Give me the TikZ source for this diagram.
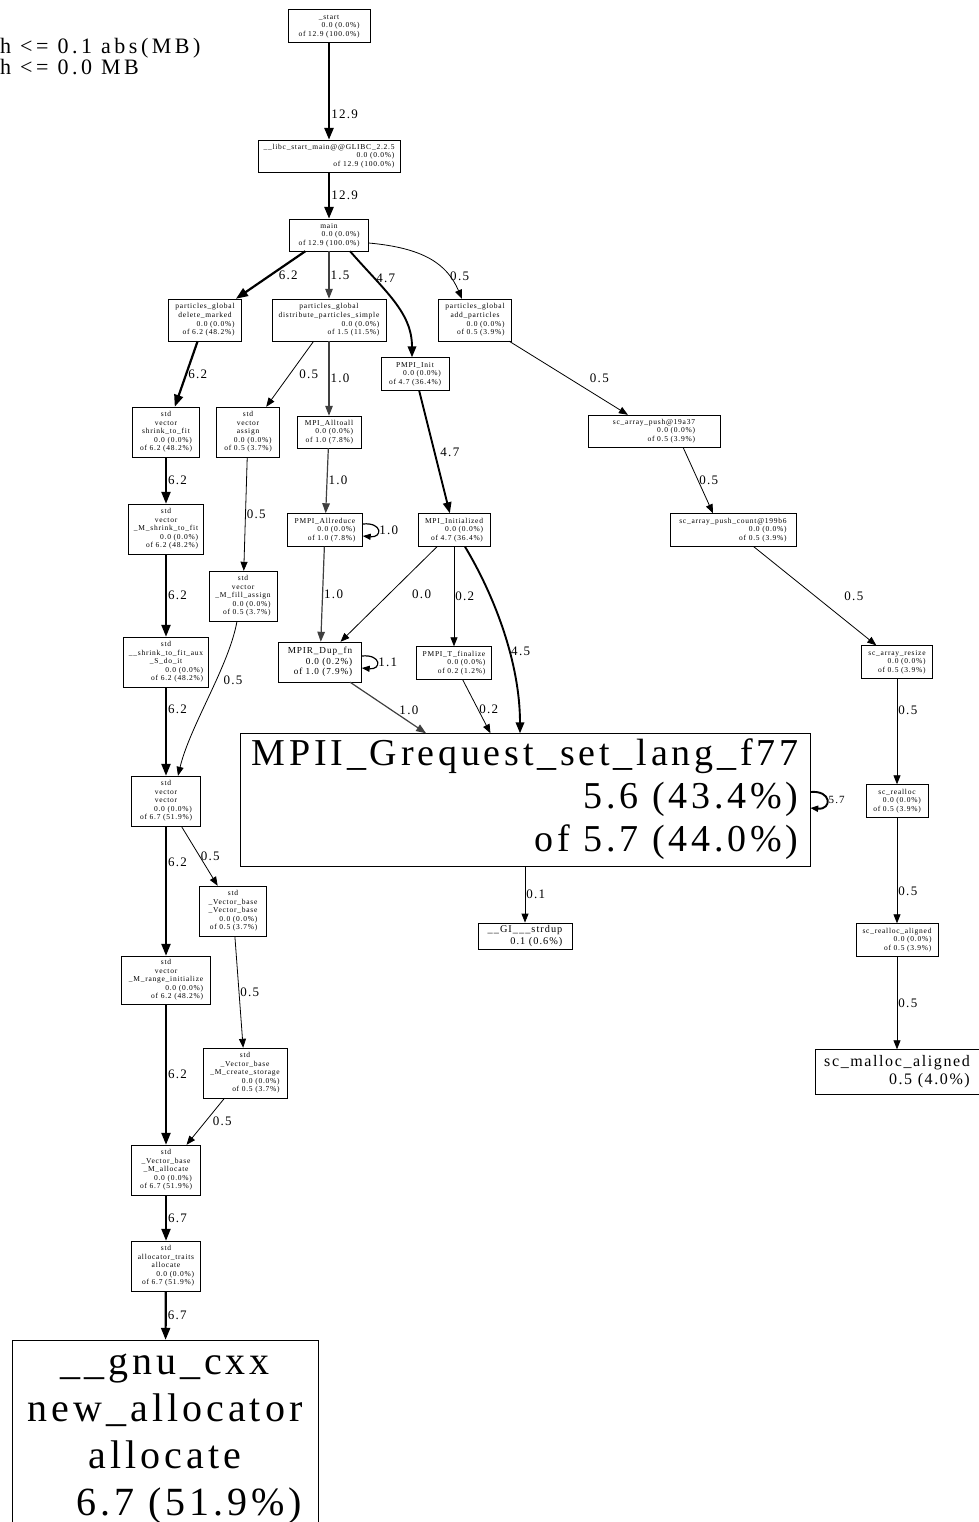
\documentclass[tikz,border=0pt]{standalone}
\usepackage{fontspec}
\setmainfont{Liberation Serif}[LetterSpace=10]
\newfontfamily\legendfont{Liberation Serif}[LetterSpace=16]
\usetikzlibrary{arrows.meta}

\newcommand{\fnlbl}[3]{\begin{tabular}{@{}c@{}}#1\\\hfill #2\\\hfill #3\end{tabular}}
\newcommand{\leaflbl}[2]{\begin{tabular}{@{}c@{}}#1\\\hfill #2\end{tabular}}

\begin{document}
\begin{tikzpicture}[x=1pt, y=-1pt,
  fn/.style={draw, inner sep=1.5pt, font=\fontsize{7.5}{8.6}\selectfont},
  lbl/.style={anchor=west, inner sep=1pt, font=\fontsize{13}{14}\selectfont},
  e0/.style={-{Triangle[length=9pt,width=7pt]}, line width=0.8pt},
  e1/.style={-{Triangle[length=10pt,width=7.5pt]}, line width=1.2pt, draw=black!75},
  e4/.style={-{Triangle[length=11pt,width=8.5pt]}, line width=1.9pt},
  e6/.style={-{Triangle[length=12pt,width=9pt]}, line width=2.2pt},
  e12/.style={-{Triangle[length=12pt,width=9pt]}, line width=2.6pt},
  loopy/.style={-{Triangle[length=8pt,width=6pt]}, draw=black}]
\useasboundingbox (0,0) rectangle (979,1522);

\node[anchor=west, align=left, inner sep=0pt, font=\legendfont\fontsize{22}{19}\selectfont] (legend) at (0,57) {h <= 0.1 abs(MB)\\h <= 0.0 MB};

\node[fn, minimum width=82pt, minimum height=33pt] (start) at (329,26) {\fnlbl{\_start}{0.0 (0.0\%)}{of 12.9 (100.0\%)}};
\node[fn, minimum width=142pt, minimum height=32pt] (libc) at (329,156) {\fnlbl{\_\_libc\_start\_main@@GLIBC\_2.2.5}{0.0 (0.0\%)}{of 12.9 (100.0\%)}};
\node[fn, minimum width=79pt, minimum height=32pt] (main) at (329,235) {\fnlbl{main}{0.0 (0.0\%)}{of 12.9 (100.0\%)}};
\node[fn, minimum width=73pt, minimum height=42pt] (delmark) at (205,320) {\fnlbl{particles\_global\\delete\_marked}{0.0 (0.0\%)}{of 6.2 (48.2\%)}};
\node[fn, minimum width=114pt, minimum height=42pt] (distrib) at (329,320) {\fnlbl{particles\_global\\distribute\_particles\_simple}{0.0 (0.0\%)}{of 1.5 (11.5\%)}};
\node[fn, minimum width=73pt, minimum height=42pt] (addpart) at (475,320) {\fnlbl{particles\_global\\add\_particles}{0.0 (0.0\%)}{of 0.5 (3.9\%)}};
\node[fn, minimum width=68pt, minimum height=33pt] (pmpiinit) at (415,374) {\fnlbl{PMPI\_Init}{0.0 (0.0\%)}{of 4.7 (36.4\%)}};
\node[fn, minimum width=132pt, minimum height=32pt] (pusha) at (654,431) {\fnlbl{sc\_array\_push@19a37}{0.0 (0.0\%)}{of 0.5 (3.9\%)}};
\node[fn, minimum width=67pt, minimum height=50pt] (shrink) at (166,432) {\fnlbl{std\\vector\\shrink\_to\_fit}{0.0 (0.0\%)}{of 6.2 (48.2\%)}};
\node[fn, minimum width=63pt, minimum height=50pt] (assign) at (248,432) {\fnlbl{std\\vector\\assign}{0.0 (0.0\%)}{of 0.5 (3.7\%)}};
\node[fn, minimum width=64pt, minimum height=32pt] (alltoall) at (329,432) {\fnlbl{MPI\_Alltoall}{0.0 (0.0\%)}{of 1.0 (7.8\%)}};
\node[fn, minimum width=75pt, minimum height=50pt] (mshrink) at (166,529) {\fnlbl{std\\vector\\\_M\_shrink\_to\_fit}{0.0 (0.0\%)}{of 6.2 (48.2\%)}};
\node[fn, minimum width=75pt, minimum height=33pt] (allreduce) at (325,530) {\fnlbl{PMPI\_Allreduce}{0.0 (0.0\%)}{of 1.0 (7.8\%)}};
\node[fn, minimum width=72pt, minimum height=33pt] (initialized) at (454,530) {\fnlbl{MPI\_Initialized}{0.0 (0.0\%)}{of 4.7 (36.4\%)}};
\node[fn, minimum width=126pt, minimum height=33pt] (pushcount) at (733,530) {\fnlbl{sc\_array\_push\_count@199b6}{0.0 (0.0\%)}{of 0.5 (3.9\%)}};
\node[fn, minimum width=68pt, minimum height=50pt] (fillassign) at (243,596) {\fnlbl{std\\vector\\\_M\_fill\_assign}{0.0 (0.0\%)}{of 0.5 (3.7\%)}};
\node[fn, minimum width=85pt, minimum height=50pt] (doit) at (166,662) {\fnlbl{std\\\_\_shrink\_to\_fit\_aux\\\_S\_do\_it}{0.0 (0.0\%)}{of 6.2 (48.2\%)}};
\node[fn, minimum width=83pt, minimum height=40pt, font=\fontsize{9.2}{10.5}\selectfont] (dupfn) at (320,662) {\fnlbl{MPIR\_Dup\_fn}{0.0 (0.2\%)}{of 1.0 (7.9\%)}};
\node[fn, minimum width=75pt, minimum height=33pt] (tfinalize) at (454,663) {\fnlbl{PMPI\_T\_finalize}{0.0 (0.0\%)}{of 0.2 (1.2\%)}};
\node[fn, minimum width=71pt, minimum height=33pt] (resize) at (897,662) {\fnlbl{sc\_array\_resize}{0.0 (0.0\%)}{of 0.5 (3.9\%)}};
\node[fn, minimum width=570pt, minimum height=133pt, font=\fontsize{38}{43}\selectfont] (grequest) at (525,800) {\fnlbl{MPII\_Grequest\_set\_lang\_f77}{5.6 (43.4\%)}{of 5.7 (44.0\%)}};
\node[fn, minimum width=69pt, minimum height=50pt] (vecvec) at (166,801) {\fnlbl{std\\vector\\vector}{0.0 (0.0\%)}{of 6.7 (51.9\%)}};
\node[fn, minimum width=62pt, minimum height=33pt] (realloc) at (897,801) {\fnlbl{sc\_realloc}{0.0 (0.0\%)}{of 0.5 (3.9\%)}};
\node[fn, minimum width=67pt, minimum height=50pt] (vbase) at (233,911) {\fnlbl{std\\\_Vector\_base\\\_Vector\_base}{0.0 (0.0\%)}{of 0.5 (3.7\%)}};
\node[fn, minimum width=94pt, minimum height=24pt, font=\fontsize{10.3}{11.7}\selectfont] (strdup) at (525,936) {\leaflbl{\_\_GI\_\_\_strdup}{0.1 (0.6\%)}};
\node[fn, minimum width=82pt, minimum height=33pt] (realloca) at (897,940) {\fnlbl{sc\_realloc\_aligned}{0.0 (0.0\%)}{of 0.5 (3.9\%)}};
\node[fn, minimum width=89pt, minimum height=48pt] (rangeinit) at (166,980) {\fnlbl{std\\vector\\\_M\_range\_initialize}{0.0 (0.0\%)}{of 6.2 (48.2\%)}};
\node[fn, minimum width=84pt, minimum height=50pt] (createstor) at (245,1073) {\fnlbl{std\\\_Vector\_base\\\_M\_create\_storage}{0.0 (0.0\%)}{of 0.5 (3.7\%)}};
\node[fn, minimum width=164pt, minimum height=45pt, font=\fontsize{16}{18}\selectfont] (malloca) at (897,1072) {\leaflbl{sc\_malloc\_aligned}{0.5 (4.0\%)}};
\node[fn, minimum width=69pt, minimum height=50pt] (mallocate) at (166,1170) {\fnlbl{std\\\_Vector\_base\\\_M\_allocate}{0.0 (0.0\%)}{of 6.7 (51.9\%)}};
\node[fn, minimum width=69pt, minimum height=50pt] (alloctraits) at (166,1266) {\fnlbl{std\\allocator\_traits\\allocate}{0.0 (0.0\%)}{of 6.7 (51.9\%)}};
\node[fn, minimum width=306pt, minimum height=192pt, font=\fontsize{40}{47}\selectfont] (newalloc) at (165,1436) {\leaflbl{\_\_gnu\_cxx\\new\_allocator\\allocate}{6.7 (51.9\%)}};

\draw[e12] (start) -- (libc) node[lbl, pos=0.74] {12.9};
\draw[e12] (libc) -- (main) node[lbl, midway] {12.9};
\draw[e6] (main) -- (delmark) node[lbl, midway, xshift=6pt] {6.2};
\draw[e1] (main) -- (distrib) node[lbl, midway] {1.5};
\draw[e4] ([xshift=21pt]main.south) .. controls +(35,40) and +(0,-45) .. ([xshift=-3pt]pmpiinit.north) node[lbl, pos=0.25] {4.7};
\draw[e0] ([yshift=-8pt]main.east) .. controls +(55,5) and +(-15,-35) .. ([xshift=-13pt]addpart.north) node[lbl, pos=0.75] {0.5};
\draw[e6] (delmark) -- (shrink) node[lbl, midway] {6.2};
\draw[e0] (distrib) -- (assign) node[lbl, midway, xshift=8pt] {0.5};
\draw[e1] (distrib) -- (alltoall) node[lbl, midway] {1.0};
\draw[e0] (addpart) -- (pusha) node[lbl, midway, xshift=20pt] {0.5};
\draw[e4] (pmpiinit) -- (initialized) node[lbl, midway, xshift=4pt] {4.7};
\draw[e0] ([xshift=29pt]pusha.south) -- ([xshift=-20pt]pushcount.north) node[lbl, midway] {0.5};
\draw[e6] (shrink) -- (mshrink) node[lbl, midway] {6.2};
\draw[e0] (assign) -- (fillassign) node[lbl, midway] {0.5};
\draw[e1] (alltoall) -- (allreduce) node[lbl, midway] {1.0};
\draw[e1, loopy] ([yshift=6pt]allreduce.east) .. controls +(20,-2) and +(20,2) .. ([yshift=-6pt]allreduce.east) node[lbl, pos=0.5] {1.0};
\draw[e0] (pushcount) -- (resize) node[lbl, midway, xshift=28pt] {0.5};
\draw[e6] (mshrink) -- (doit) node[lbl, midway] {6.2};
\draw[e0] ([xshift=-6pt]fillassign.south) .. controls +(-8,45) and +(12,-50) .. ([xshift=12pt]vecvec.north) node[lbl, pos=0.4, xshift=6pt] {0.5};
\draw[e1] (allreduce) -- (dupfn) node[lbl, midway] {1.0};
\draw[e0] (initialized) -- (dupfn) node[lbl, midway, xshift=22pt] {0.0};
\draw[e0] (initialized) -- (tfinalize) node[lbl, midway] {0.2};
\draw[e4] ([xshift=11pt]initialized.south) .. controls +(30,50) and +(0,-70) .. ([xshift=-5pt]grequest.north) node[lbl, pos=0.6] {4.5};
\draw[e0] (resize) -- (realloc) node[lbl, pos=0.3] {0.5};
\draw[e6] (doit) -- (vecvec) node[lbl, pos=0.25] {6.2};
\draw[e1, loopy] ([yshift=6pt]dupfn.east) .. controls +(20,-2) and +(20,2) .. ([yshift=-6pt]dupfn.east) node[lbl, pos=0.5] {1.1};
\draw[e1] (dupfn) -- (grequest) node[lbl, pos=0.55, xshift=6pt] {1.0};
\draw[e0] (tfinalize) -- (grequest) node[lbl, pos=0.55] {0.2};
\draw[e4, loopy] ([yshift=8pt]grequest.east) .. controls +(22,-2) and +(22,2) .. ([yshift=-8pt]grequest.east) node[lbl, pos=0.5, font=\fontsize{11}{12}\selectfont] {5.7};
\draw[e0] (grequest) -- (strdup) node[lbl, midway] {0.1};
\draw[e0] (realloc) -- (realloca) node[lbl, pos=0.7] {0.5};
\draw[e6] (vecvec) -- (rangeinit) node[lbl, pos=0.28] {6.2};
\draw[e0] (vecvec) -- (vbase) node[lbl, midway] {0.5};
\draw[e0] (realloca) -- (malloca) node[lbl, midway] {0.5};
\draw[e0] (vbase) -- (createstor) node[lbl, midway] {0.5};
\draw[e6] (rangeinit) -- (mallocate) node[lbl, midway] {6.2};
\draw[e0] (createstor) -- (mallocate) node[lbl, midway, xshift=6pt] {0.5};
\draw[e6] (mallocate) -- (alloctraits) node[lbl, midway] {6.7};
\draw[e6] (alloctraits) -- (newalloc) node[lbl, midway] {6.7};
\end{tikzpicture}
\end{document}
